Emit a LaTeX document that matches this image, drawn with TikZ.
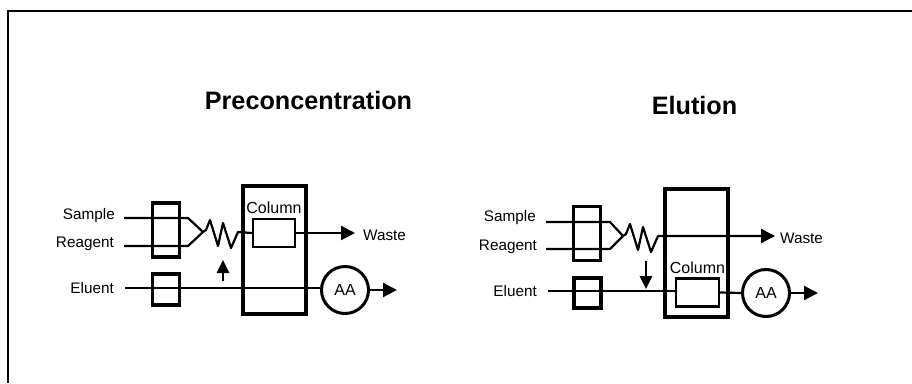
\documentclass[tikz,border=0pt]{standalone}
\usepackage{fontspec}
\setmainfont{Liberation Sans}
\usetikzlibrary{positioning}
\usetikzlibrary{arrows.meta}

\tikzset{
    pumpbox/.style={shape=rectangle,draw,line width=3.8pt,minimum width=27pt,inner sep=0pt},
    columnbox/.style={shape=rectangle,draw,line width=3.4pt,minimum width=63pt,minimum height=128pt,inner sep=0pt},
    packing/.style={shape=rectangle,draw,line width=2.4pt,minimum width=42pt,minimum height=28pt,inner sep=0pt},
    detector/.style={shape=circle,draw,line width=3pt,minimum size=47pt,inner sep=0pt,font=\fontsize{16}{18}\selectfont},
    lbl/.style={font=\fontsize{15.3}{18}\selectfont,inner sep=0pt},
    columnlbl/.style={font=\fontsize{16}{18}\selectfont,inner sep=0pt},
    heading/.style={font=\fontsize{25.2}{29}\selectfont\bfseries,inner sep=0pt,anchor=base},
    flow/.style={line width=2.2pt,line join=round},
    flowout/.style={line width=2.2pt,line join=round,-{Triangle[length=14pt,width=14pt]}},
    valvearrow/.style={line width=2.6pt,-{Triangle[length=13pt,width=12pt]}}
}

\begin{document}
\begin{tikzpicture}[x=1pt,y=-1pt]
    \useasboundingbox (0,0) rectangle (912,383);
    %Frame
    \coordinate (frameA) at (912,11);
    \coordinate (frameB) at (8,11);
    \coordinate (frameC) at (8,383);
    \draw[line width=2pt] (frameA) -- (frameB) -- (frameC);

    %Preconcentration
    \node[heading] (title1) at (308.5,109) {Preconcentration};
    \coordinate (sample1) at (124,218);
    \coordinate (reagent1) at (124,246);
    \coordinate (eluent1) at (125,288);
    \coordinate (tee1) at (203,232);
    \coordinate (out1) at (397,290);
    \coordinate (waste1) at (355,233);
    \coordinate (up1a) at (223,281);
    \coordinate (up1b) at (223,260);
    \node[pumpbox,minimum height=54pt] (pumpA1) at (166,230) {};
    \node[pumpbox,minimum height=31pt] (pumpB1) at (166,289.5) {};
    \node[columnbox] (col1) at (274.5,250) {};
    \node[packing] (pack1) at (274,233) {};
    \node[detector] (aa1) at (345,290) {AA};
    \node[lbl,left=9pt of sample1,yshift=2pt] (samplelbl1) {Sample};
    \node[lbl,left=10pt of reagent1,yshift=2pt] (reagentlbl1) {Reagent};
    \node[lbl,left=11pt of eluent1] (eluentlbl1) {Eluent};
    \node[lbl,right=8pt of waste1,yshift=-2pt] (wastelbl1) {Waste};
    \node[columnlbl,above=3.5pt of pack1] (columnlbl1) {Column};
    %Lines
    \draw[flow] (sample1) -- ++(64,0) -- (tee1);
    \draw[flow] (reagent1) -- ++(64,0) -- (tee1);
    \draw[flow] (tee1) -- ++(3,-2) -- ++(4,-10) -- ++(8,26) -- ++(5,-23) -- ++(8,25) -- ++(7,-16) -- (pack1.west);
    \draw[flow] (eluent1) -- (eluent1 -| aa1.west);
    \draw[flowout] (pack1.east) -- (waste1);
    \draw[flowout] (aa1.east) -- (out1);
    \draw[valvearrow] (up1a) -- (up1b);

    %Elution
    \node[heading] (title2) at (694.5,114) {Elution};
    \coordinate (sample2) at (546,222);
    \coordinate (reagent2) at (546,249);
    \coordinate (eluent2) at (548,291);
    \coordinate (tee2) at (623,236);
    \coordinate (out2) at (818,293);
    \coordinate (waste2) at (775,236);
    \coordinate (down2a) at (646,261);
    \coordinate (down2b) at (646,289);
    \node[pumpbox,minimum height=54pt] (pumpA2) at (587,233.5) {};
    \node[pumpbox,minimum height=30pt] (pumpB2) at (587.5,293) {};
    \node[columnbox] (col2) at (696.5,253) {};
    \node[packing,minimum width=43pt] (pack2) at (697.5,292.5) {};
    \node[detector] (aa2) at (766,293) {AA};
    \node[lbl,left=10pt of sample2,yshift=4pt] (samplelbl2) {Sample};
    \node[lbl,left=9pt of reagent2,yshift=2pt] (reagentlbl2) {Reagent};
    \node[lbl,left=11pt of eluent2] (eluentlbl2) {Eluent};
    \node[lbl,right=5pt of waste2,yshift=-2pt] (wastelbl2) {Waste};
    \node[columnlbl,above=3.5pt of pack2] (columnlbl2) {Column};
    %Lines
    \draw[flow] (sample2) -- ++(64,0) -- (tee2);
    \draw[flow] (reagent2) -- ++(64,0) -- (tee2);
    \draw[flowout] (tee2) -- ++(3,-2) -- ++(4,-10) -- ++(8,26) -- ++(5,-23) -- ++(8,25) -- ++(7,-16) -- (waste2);
    \draw[flow] (eluent2) -- (eluent2 -| pack2.west);
    \draw[flow] (pack2.east) -- (aa2.west);
    \draw[flowout] (aa2.east) -- (out2);
    \draw[valvearrow] (down2a) -- (down2b);
\end{tikzpicture}
\end{document}
